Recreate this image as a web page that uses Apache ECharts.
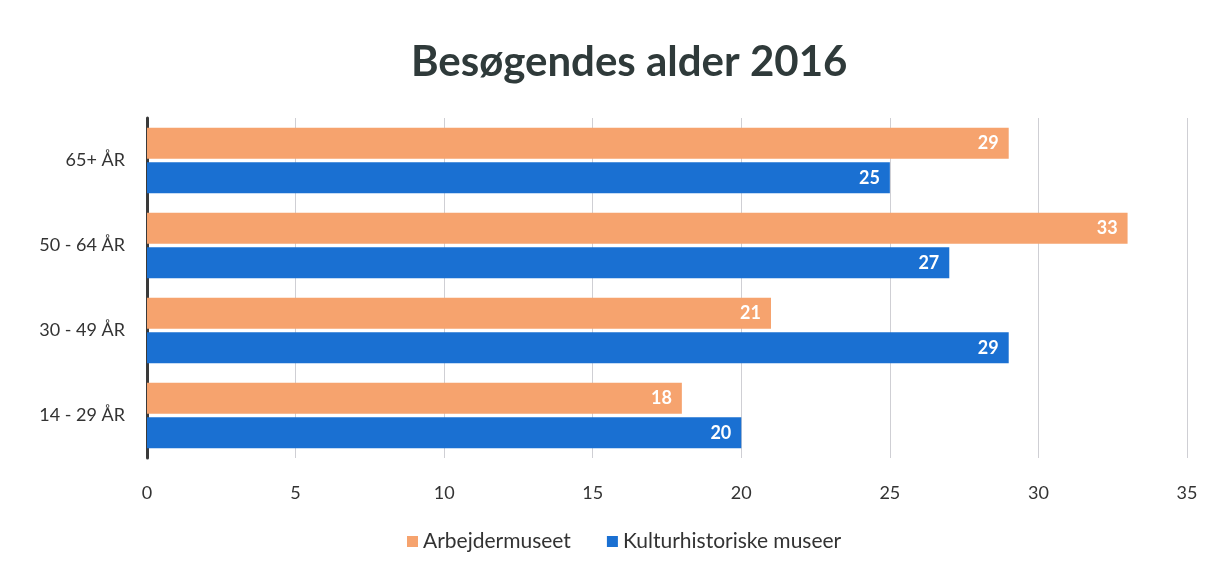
<!DOCTYPE html>
<html>
<head>
<meta charset="utf-8">
<script src="https://cdn.jsdelivr.net/npm/echarts@6/dist/echarts.min.js"></script>
<style>
  html, body { margin: 0; padding: 0; background: #fff; }
  #chart { width: 1216px; height: 571px; }
</style>
</head>
<body>
<div id="chart"></div>
<script>
const categories = ['65+ ÅR', '50 - 64 ÅR', '30 - 49 ÅR', '14 - 29 ÅR'];
const arbejdermuseet = [29, 33, 21, 18];
const kulturhistoriske = [25, 27, 29, 20];
const xTicks = [0, 5, 10, 15, 20, 25, 30, 35];

const chart = echarts.init(document.getElementById('chart'));

const labelStyle = {
  show: true,
  position: 'insideRight',
  distance: 10,
  color: '#fff',
  fontWeight: 'bold',
  fontSize: 18,
  fontFamily: 'Lato'
};

const option = {
  backgroundColor: '#fff',
  title: {
    text: 'Besøgendes alder 2016',
    left: 406,
    top: 36,
    textStyle: {
      fontSize: 42,
      fontWeight: 'bold',
      color: '#2f3a3a',
      fontFamily: 'Lato'
    }
  },
  legend: {
    bottom: 14,
    left: 402,
    itemWidth: 11,
    itemHeight: 11,
    itemGap: 36,
    icon: 'rect',
    textStyle: { fontSize: 21, color: '#333', fontFamily: 'Lato' },
    data: ['Arbejdermuseet', 'Kulturhistoriske museer']
  },
  grid: {
    left: 147,
    right: 29,
    top: 118,
    bottom: 113
  },
  xAxis: {
    type: 'value',
    min: xTicks[0],
    max: xTicks[xTicks.length - 1],
    interval: 5,
    axisLine: { show: false },
    axisTick: { show: false },
    axisLabel: { fontSize: 18, color: '#333', margin: 26, fontFamily: 'Lato' },
    splitLine: { lineStyle: { color: '#cfcfd4', width: 1 } }
  },
  yAxis: {
    type: 'category',
    inverse: true,
    data: categories,
    axisLine: { lineStyle: { color: '#3a3a3a', width: 3 } },
    axisTick: { show: false },
    axisLabel: { fontSize: 18, color: '#333', margin: 22, fontFamily: 'Lato' }
  },
  series: [
    {
      name: 'Arbejdermuseet',
      type: 'bar',
      data: arbejdermuseet,
      barWidth: 31,
      barGap: '12%',
      itemStyle: { color: '#f6a36e' },
      label: labelStyle
    },
    {
      name: 'Kulturhistoriske museer',
      type: 'bar',
      data: kulturhistoriske,
      barWidth: 31,
      barGap: '12%',
      itemStyle: { color: '#1a70d2' },
      label: labelStyle
    }
  ]
};

chart.setOption(option);
window.addEventListener('resize', () => chart.resize());
</script>
</body>
</html>
